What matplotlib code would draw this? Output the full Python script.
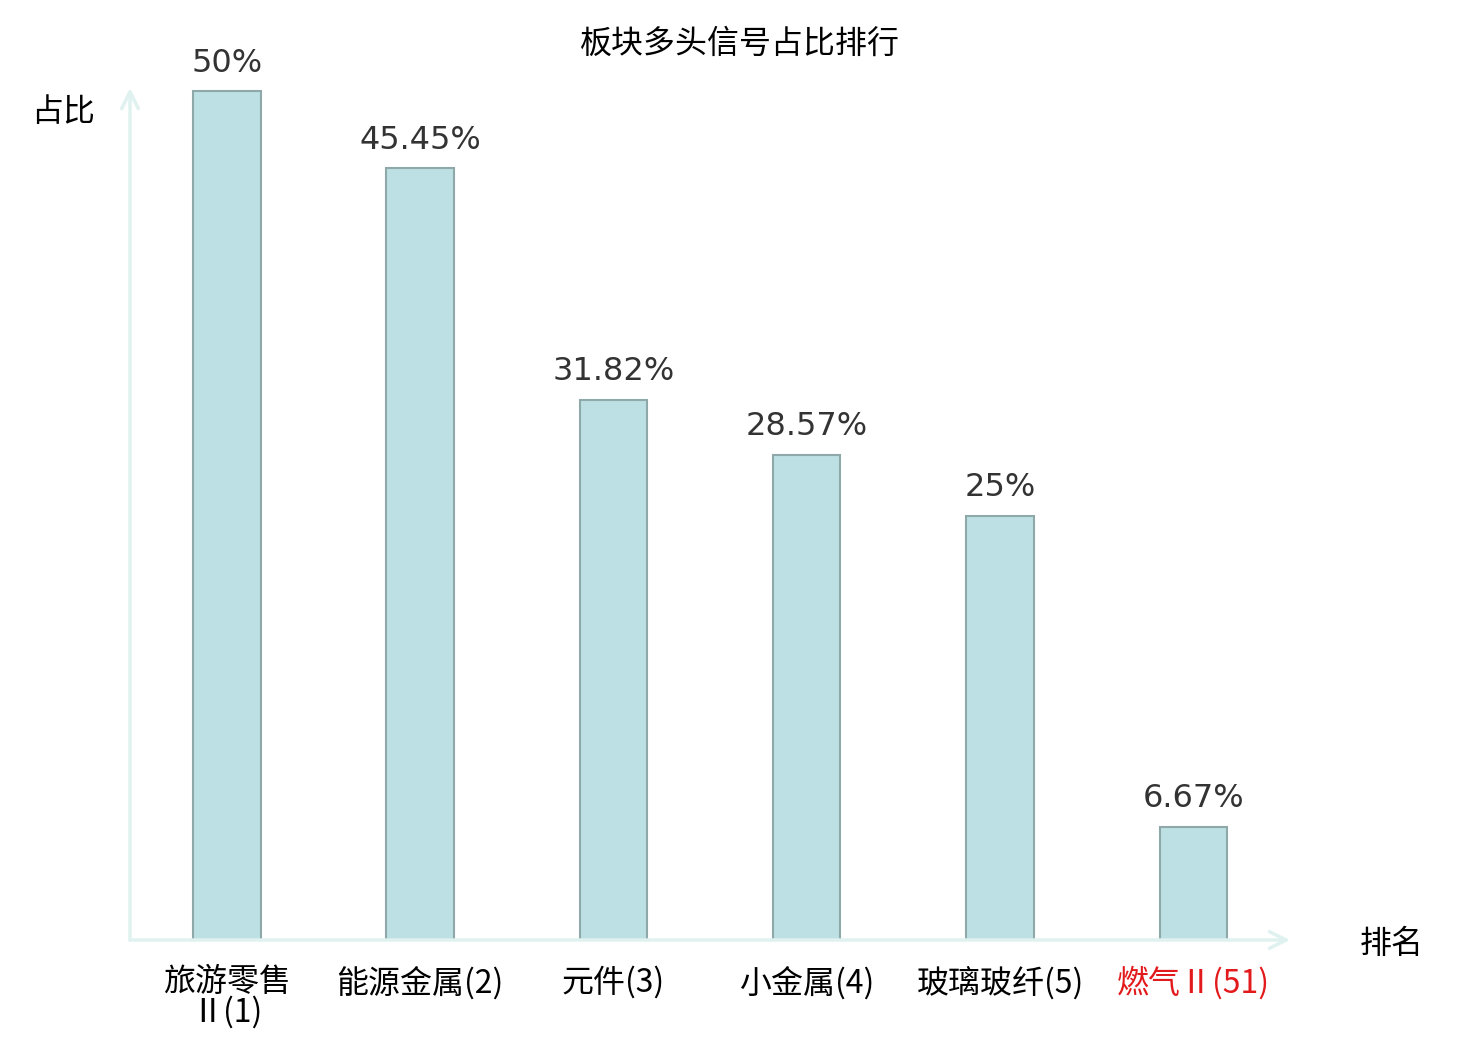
import matplotlib
matplotlib.use("Agg")
from matplotlib import pyplot as plt

plt.rcParams['font.family'] = ['Noto Sans CJK SC', 'DejaVu Sans']

sectors = ["旅游零售\nⅡ(1)", "能源金属(2)", "元件(3)", "小金属(4)", "玻璃玻纤(5)", "燃气Ⅱ(51)"]
ratios = [50, 45.45, 31.82, 28.57, 25, 6.67]
value_labels = ["50%", "45.45%", "31.82%", "28.57%", "25%", "6.67%"]
highlight = 5

axis_color = "#dff2f0"

fig = plt.figure(figsize=(14.8, 10.4), dpi=100)
ax = fig.add_axes([130 / 1480, 100 / 1040, 1160 / 1480, 852 / 1040])

x = list(range(len(sectors)))
ax.bar(x, ratios, width=0.35, color="#bce0e3", edgecolor="#8fa9aa", linewidth=1.5)

for i, v in enumerate(ratios):
    ax.annotate(value_labels[i], (i, v), xytext=(0, 9), textcoords="offset points",
                ha="center", va="bottom", fontsize=23, color="#333333",
                family="DejaVu Sans")

ax.set_xlim(-0.5, 5.5)
ax.set_ylim(0, 50.18)
ax.set_xticks(x)
ax.set_xticklabels(sectors, fontsize=23, linespacing=0.9)
ax.tick_params(axis="x", length=0, pad=19)
ax.set_yticks([])
for lab in ax.get_xticklabels():
    lab.set_verticalalignment("top")
ax.get_xticklabels()[highlight].set_color("#e31a1c")

for s in ax.spines.values():
    s.set_visible(False)

# axis arrows
ax.annotate("", xy=(1.0, 0), xytext=(0, 0), xycoords="axes fraction",
            arrowprops=dict(arrowstyle="->", color=axis_color, lw=2.5,
                            mutation_scale=30, shrinkA=0, shrinkB=0),
            annotation_clip=False)
ax.annotate("", xy=(0, 1.0), xytext=(0, 0), xycoords="axes fraction",
            arrowprops=dict(arrowstyle="->", color=axis_color, lw=2.5,
                            mutation_scale=30, shrinkA=0, shrinkB=0),
            annotation_clip=False)

fig.text(63 / 1480, 1 - 112 / 1040, "占比", fontsize=23, ha="center", va="center")
fig.text(1392 / 1480, 1 - 944 / 1040, "排名", fontsize=23, ha="center", va="center")
fig.text(740 / 1480, 1 - 44 / 1040, "板块多头信号占比排行", fontsize=23, ha="center", va="center")

fig.savefig("out.png", dpi=100)
